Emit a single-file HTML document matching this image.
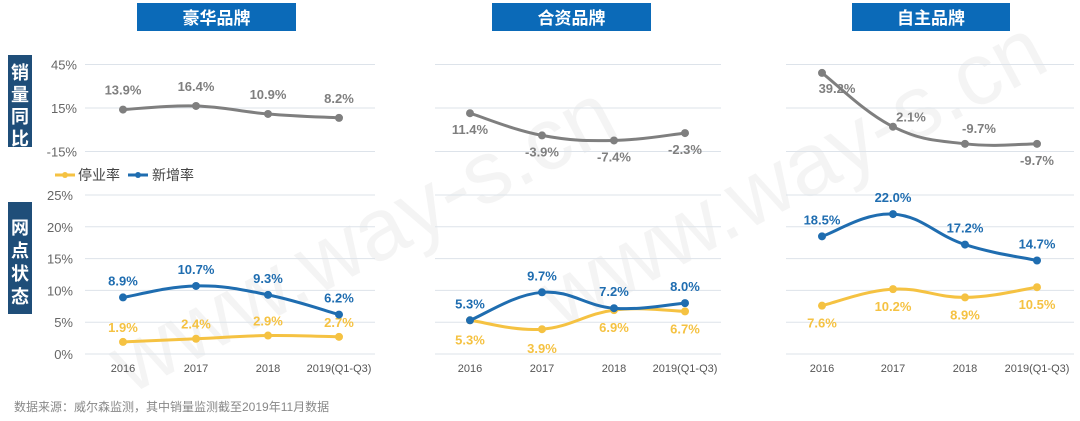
<!DOCTYPE html>
<html><head><meta charset="utf-8">
<style>
body{margin:0;background:#fff;}
svg{display:block;font-family:"Liberation Sans","Noto Sans CJK SC",sans-serif;}
</style></head>
<body>
<svg id="c" width="1080" height="421" viewBox="0 0 1080 421">
<g opacity="0.06">
<text x="130" y="395" font-size="88" fill="#555" transform="rotate(-28 130 395)">www.way-s.cn</text>
<text x="560" y="330" font-size="88" fill="#555" transform="rotate(-28 560 330)">www.way-s.cn</text>
</g>
<g>
<rect x="8" y="55" width="24" height="92" fill="#1f4e79"/>
<text x="20" y="79" font-size="18" font-weight="bold" fill="#fff" text-anchor="middle">销</text>
<text x="20" y="101" font-size="18" font-weight="bold" fill="#fff" text-anchor="middle">量</text>
<text x="20" y="123" font-size="18" font-weight="bold" fill="#fff" text-anchor="middle">同</text>
<text x="20" y="145" font-size="18" font-weight="bold" fill="#fff" text-anchor="middle">比</text>
</g>
<g>
<rect x="8" y="202" width="24" height="112" fill="#1f4e79"/>
<text x="20" y="234" font-size="18" font-weight="bold" fill="#fff" text-anchor="middle">网</text>
<text x="20" y="257" font-size="18" font-weight="bold" fill="#fff" text-anchor="middle">点</text>
<text x="20" y="280" font-size="18" font-weight="bold" fill="#fff" text-anchor="middle">状</text>
<text x="20" y="303" font-size="18" font-weight="bold" fill="#fff" text-anchor="middle">态</text>
</g>
<g>
<g>
<line x1="55" y1="175" x2="75" y2="175" stroke="#f5c242" stroke-width="3"/><circle cx="65" cy="175" r="3" fill="#f5c242"/>
<text x="78" y="180" font-size="14" fill="#444">停业率</text></g>
<g>
<line x1="128" y1="175" x2="148" y2="175" stroke="#1f6db0" stroke-width="3"/><circle cx="138" cy="175" r="3" fill="#1f6db0"/>
<text x="152" y="180" font-size="14" fill="#444">新增率</text></g>
</g>
<text x="14" y="411" font-size="12" fill="#888">数据来源：威尔森监测，其中销量监测截至2019年11月数据</text>
</svg>
<script>
const categories=["2016","2017","2018","2019(Q1-Q3)"];
const panelTitles=["豪华品牌","合资品牌","自主品牌"];
const salesLuxury=[13.9,16.4,10.9,8.2];
const salesJV=[11.4,-3.9,-7.4,-2.3];
const salesLocal=[39.2,2.1,-9.7,-9.7];
const newLuxury=[8.9,10.7,9.3,6.2];
const newJV=[5.3,9.7,7.2,8.0];
const newLocal=[18.5,22.0,17.2,14.7];
const closeLuxury=[1.9,2.4,2.9,2.7];
const closeJV=[5.3,3.9,6.9,6.7];
const closeLocal=[7.6,10.2,8.9,10.5];
const salesTicks=[45,15,-15];
const netTicks=[0,5,10,15,20,25];

const svg=document.getElementById('c');
const NS='http://www.w3.org/2000/svg';
function mk(tag,attrs,parent){const e=document.createElementNS(NS,tag);for(const k in attrs)e.setAttribute(k,attrs[k]);(parent||svg).appendChild(e);return e;}
const ySales=v=>108-(v-15)*43.5/30;
const yNet=v=>354-v*159/25;
const panels=[
 {x0:85,x1:375,cx:[123,196,268,339],sales:salesLuxury,nw:newLuxury,cl:closeLuxury,title:[137,296],
  sOff:[[0,-15],[0,-15],[0,-15],[0,-15]],nOff:[[0,-12],[0,-12],[0,-12],[0,-12]],cOff:[[0,-10],[0,-10],[0,-10],[0,-10]],axis:true},
 {x0:435,x1:721,cx:[470,542,614,685],sales:salesJV,nw:newJV,cl:closeJV,title:[492,651],
  sOff:[[0,21],[0,21],[0,21],[0,21]],nOff:[[0,-12],[0,-12],[0,-12],[0,-12]],cOff:[[0,24],[0,24],[0,22],[0,22]]},
 {x0:786,x1:1074,cx:[822,893,965,1037],sales:salesLocal,nw:newLocal,cl:closeLocal,title:[852,1010],
  sOff:[[15,20],[18,-5],[14,-11],[0,21]],nOff:[[0,-12],[0,-12],[0,-12],[0,-12]],cOff:[[0,22],[0,22],[0,22],[0,22]]}
];
function smooth(pts){let d='M'+pts[0][0]+','+pts[0][1];for(let i=0;i<pts.length-1;i++){const p0=pts[i-1]||pts[i],p1=pts[i],p2=pts[i+1],p3=pts[i+2]||p2;const t=0.2;d+=' C'+(p1[0]+(p2[0]-p0[0])*t)+','+(p1[1]+(p2[1]-p0[1])*t)+' '+(p2[0]-(p3[0]-p1[0])*t)+','+(p2[1]-(p3[1]-p1[1])*t)+' '+p2[0]+','+p2[1];}return d;}
function series(p,vals,yf,color,offs,name,pi){
  const g=mk('g',{});
  
  
  const pts=vals.map((v,i)=>[p.cx[i],yf(v)]);
  mk('path',{d:smooth(pts),fill:'none',stroke:color,'stroke-width':3},g);
  pts.forEach((pt,i)=>{
    const c=mk('circle',{cx:pt[0],cy:pt[1],r:4,fill:color},g);
    
    
    const t=mk('text',{x:pt[0]+offs[i][0],y:pt[1]+offs[i][1],'font-size':13,'font-weight':'bold',fill:color,'text-anchor':'middle'},g);
    
    
    t.textContent=vals[i].toFixed(1)+'%';
  });
}
panels.forEach((p,pi)=>{
  const g=mk('g',{});
  
  
  const tb=mk('rect',{x:p.title[0],y:3,width:p.title[1]-p.title[0],height:28,fill:'#0b6ab8'},g);
  
  
  const tt=mk('text',{x:(p.title[0]+p.title[1])/2,y:24,'font-size':17,'font-weight':'bold',fill:'#fff','text-anchor':'middle'},g);
  
  
  tt.textContent=panelTitles[pi];
  salesTicks.forEach(v=>{
    const l=mk('line',{x1:p.x0,x2:p.x1,y1:ySales(v),y2:ySales(v),stroke:'#dde3ea','stroke-width':1},g);
    
    
    if(p.axis){const t=mk('text',{x:77,y:ySales(v)+5,'font-size':13,fill:'#666','text-anchor':'end'},g);
      
      
      t.textContent=v+'%';}
  });
  netTicks.forEach(v=>{
    const l=mk('line',{x1:p.x0,x2:p.x1,y1:yNet(v),y2:yNet(v),stroke:'#dde3ea','stroke-width':1},g);
    
    
    if(p.axis){const t=mk('text',{x:73,y:yNet(v)+5,'font-size':13,fill:'#666','text-anchor':'end'},g);
      
      
      t.textContent=v+'%';}
  });
  categories.forEach((c,i)=>{
    const t=mk('text',{x:p.cx[i],y:372,'font-size':11,fill:'#555','text-anchor':'middle'},g);
    
    
    t.textContent=c;
  });
  series(p,p.sales,ySales,'#7f7f7f',p.sOff,'sales-yoy',pi);
  series(p,p.cl,yNet,'#f5c242',p.cOff,'closure-rate',pi);
  series(p,p.nw,yNet,'#1f6db0',p.nOff,'new-rate',pi);
});
</script>
</body></html>
